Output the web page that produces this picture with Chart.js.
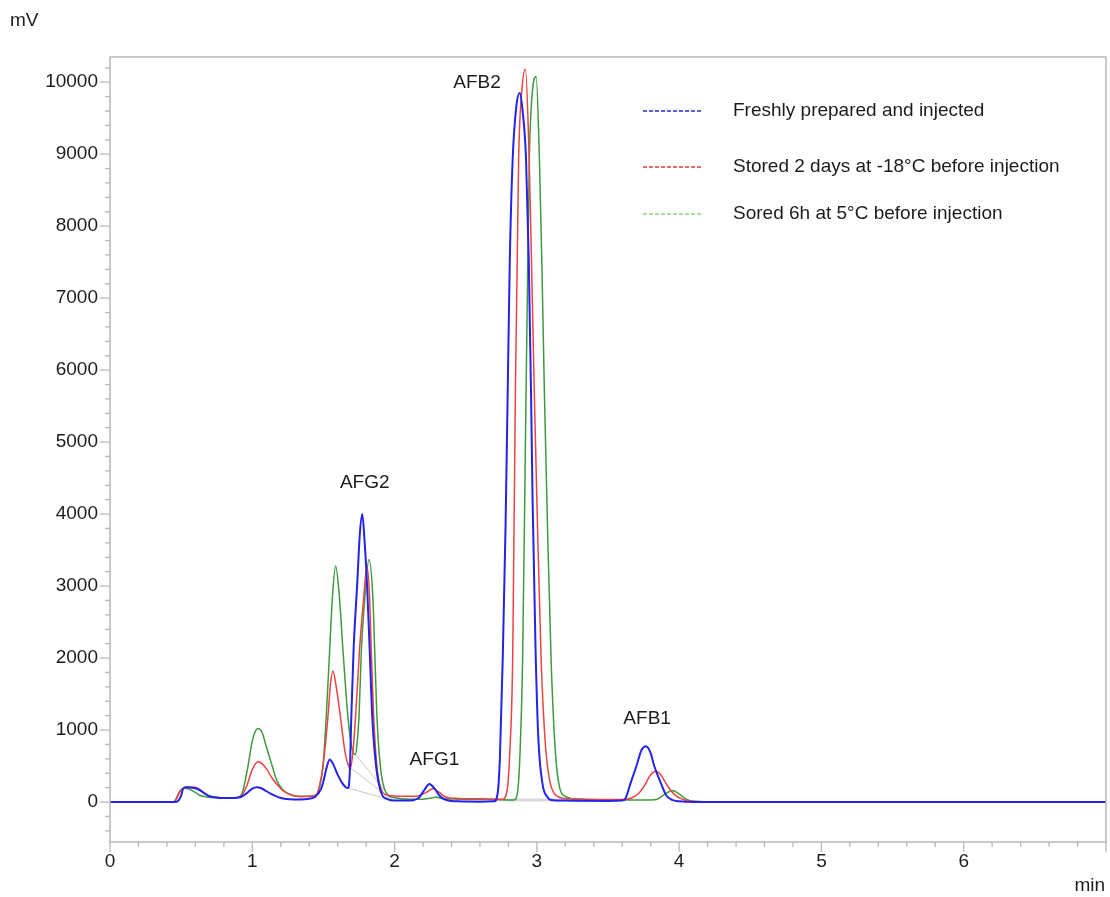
<!DOCTYPE html>
<html>
<head>
<meta charset="utf-8">
<script src="https://cdn.jsdelivr.net/npm/chart.js@4.4.1/dist/chart.umd.min.js"></script>
<style>
  html, body { margin: 0; padding: 0; background: #fff; }
  canvas { display: block; }
</style>
</head>
<body>
<canvas id="myChart" width="1110" height="897"></canvas>
<script>
// chromatogram traces, [time (min), signal (mV)]
const freshTrace = [[0,0],[0.44,0],[0.47,5],[0.50,90],[0.515,190],[0.54,205],[0.58,200],[0.61,185],[0.65,140],[0.70,80],[0.76,60],[0.84,55],[0.92,70],[0.96,120],[1.00,185],[1.03,205],[1.06,195],[1.10,150],[1.15,95],[1.20,55],[1.26,38],[1.34,35],[1.40,45],[1.44,70],[1.48,170],[1.50,290],[1.52,460],[1.544,590],[1.57,520],[1.60,380],[1.63,270],[1.655,210],[1.673,195],[1.685,400],[1.696,1190],[1.712,2120],[1.738,3050],[1.755,3700],[1.773,4000],[1.79,3600],[1.806,3050],[1.825,2120],[1.843,1190],[1.87,500],[1.906,130],[1.95,40],[2.00,20],[2.10,20],[2.17,60],[2.21,170],[2.245,250],[2.28,190],[2.32,80],[2.37,25],[2.45,10],[2.60,5],[2.70,10],[2.725,130],[2.74,600],[2.76,1980],[2.78,3830],[2.795,5690],[2.81,7540],[2.83,8930],[2.855,9650],[2.88,9850],[2.90,9600],[2.924,8930],[2.943,7540],[2.959,5690],[2.97,4200],[2.99,2200],[3.01,900],[3.04,250],[3.07,80],[3.10,30],[3.20,20],[3.50,15],[3.60,20],[3.62,40],[3.66,270],[3.70,500],[3.735,720],[3.766,775],[3.80,680],[3.825,500],[3.87,270],[3.91,90],[3.95,30],[4.00,10],[4.10,0],[7.00,0]];

const storedColdTrace = [[0,0],[0.44,0],[0.46,20],[0.49,140],[0.52,200],[0.55,210],[0.60,205],[0.63,175],[0.66,125],[0.70,80],[0.78,60],[0.86,55],[0.92,80],[0.96,220],[1.00,450],[1.04,560],[1.07,530],[1.10,460],[1.14,330],[1.18,230],[1.22,150],[1.28,95],[1.34,80],[1.40,80],[1.45,100],[1.475,250],[1.497,500],[1.532,1190],[1.55,1650],[1.567,1820],[1.59,1600],[1.619,1190],[1.649,730],[1.67,540],[1.69,475],[1.705,650],[1.726,1190],[1.754,2120],[1.782,2815],[1.806,3280],[1.825,2815],[1.836,2120],[1.853,1190],[1.876,500],[1.918,130],[1.96,90],[2.05,80],[2.15,80],[2.22,130],[2.27,185],[2.31,140],[2.36,70],[2.45,50],[2.60,45],[2.76,40],[2.79,150],[2.81,700],[2.83,1980],[2.849,5690],[2.862,7500],[2.872,8930],[2.895,9900],[2.92,10180],[2.945,9000],[2.962,7540],[2.982,5690],[3.005,3800],[3.03,1980],[3.06,800],[3.09,300],[3.13,100],[3.20,50],[3.60,35],[3.67,60],[3.72,130],[3.754,220],[3.80,380],[3.836,428],[3.87,380],[3.92,220],[3.97,100],[4.02,40],[4.07,15],[4.20,5],[6.20,0]];

const storedFridgeTrace = [[0,0],[0.44,0],[0.46,30],[0.49,150],[0.52,190],[0.55,185],[0.59,145],[0.63,95],[0.68,70],[0.74,58],[0.84,52],[0.90,65],[0.93,130],[0.97,500],[1.00,850],[1.04,1020],[1.07,960],[1.10,760],[1.14,500],[1.17,310],[1.21,180],[1.25,120],[1.33,75],[1.42,80],[1.462,130],[1.48,280],[1.497,500],[1.52,1190],[1.544,2120],[1.565,2900],[1.586,3280],[1.61,2900],[1.637,2120],[1.672,1190],[1.70,750],[1.726,660],[1.74,900],[1.75,1190],[1.767,2120],[1.79,2815],[1.82,3370],[1.848,2815],[1.86,2120],[1.876,1190],[1.90,500],[1.94,130],[2.00,60],[2.10,40],[2.20,40],[2.26,55],[2.29,70],[2.33,50],[2.45,40],[2.70,35],[2.84,30],[2.865,150],[2.88,600],[2.90,1980],[2.924,5690],[2.935,7300],[2.947,8930],[2.97,9900],[2.995,10080],[3.018,8930],[3.035,7500],[3.053,5690],[3.075,3800],[3.10,1980],[3.13,700],[3.16,200],[3.20,80],[3.30,40],[3.80,30],[3.84,35],[3.90,110],[3.953,160],[4.00,110],[4.05,40],[4.10,10],[4.30,0],[6.46,0]];

// integration baselines (thin grey)
const baselineSegments = [
    [[1.673,195],[2.00,15]],
    [[1.69,475],[1.97,50]],
    [[1.726,660],[1.98,40]],
    [[2.72,28],[3.35,28]]
];

const seriesNames = ['Freshly prepared and injected', 'Stored 2 days at -18°C before injection', 'Sored 6h at 5°C before injection'];
const lineColors = ['#2323ea', '#ec4242', '#3e9a3e'];
const legendDashColors = ['#2a2ad0', '#dc3c3c', '#8ed27e'];

const peakNames = ['AFB2', 'AFG2', 'AFG1', 'AFB1'];
const peakTimes = [2.58, 1.79, 2.28, 3.775];
const peakLevels = [9990, 4430, 590, 1150];

const xTickValues = [0, 1, 2, 3, 4, 5, 6];
const yTickValues = [0, 1000, 2000, 3000, 4000, 5000, 6000, 7000, 8000, 9000, 10000];

const toPoints = trace => trace.map(p => ({ x: p[0], y: p[1] }));

Chart.defaults.font.family = '"Liberation Sans", Arial, Helvetica, sans-serif';
Chart.defaults.font.size = 19;
Chart.defaults.color = '#1c1c1c';

const axisGrey = '#b8b8b8';

// box, ticks, axis units, peak names and legend
const decorations = {
    id: 'decorations',
    afterDraw(chart) {
        const c = chart.ctx;
        const area = chart.chartArea;
        const xs = chart.scales.x;
        const ys = chart.scales.y;
        c.save();
        c.strokeStyle = axisGrey;
        c.lineWidth = 1.5;
        c.strokeRect(area.left, area.top, area.right - area.left, area.bottom - area.top);

        c.lineWidth = 1.3;
        c.beginPath();
        for (let i = 0; i <= 35; i++) {
            const v = i * 0.2;
            const px = xs.getPixelForValue(v);
            const len = (i % 5 === 0) ? 10 : 5;
            c.moveTo(px, area.bottom);
            c.lineTo(px, area.bottom + len);
        }
        for (let v = -400; v <= 10200; v += 200) {
            const py = ys.getPixelForValue(v);
            const len = (v % 1000 === 0) ? 10 : 5;
            c.moveTo(area.left, py);
            c.lineTo(area.left - len, py);
        }
        c.stroke();

        c.fillStyle = '#1c1c1c';
        c.font = '19px "Liberation Sans", Arial, sans-serif';
        c.textBaseline = 'middle';
        c.textAlign = 'left';
        c.fillText('mV', 10, 21);
        c.textAlign = 'right';
        c.fillText('min', 1105, 886);

        c.textAlign = 'center';
        peakNames.forEach((name, i) => {
            c.fillText(name, xs.getPixelForValue(peakTimes[i]), ys.getPixelForValue(peakLevels[i]));
        });

        // legend
        const rows = [111, 167, 214];
        c.textAlign = 'left';
        c.lineWidth = 1.5;
        seriesNames.forEach((name, i) => {
            c.strokeStyle = legendDashColors[i];
            c.setLineDash([4, 2]);
            c.beginPath();
            c.moveTo(643, rows[i]);
            c.lineTo(703, rows[i]);
            c.stroke();
            c.setLineDash([]);
            c.fillText(name, 733, rows[i]);
        });
        c.restore();
    }
};

const traceDatasets = [freshTrace, storedColdTrace, storedFridgeTrace].map((trace, i) => ({
    label: seriesNames[i],
    data: toPoints(trace),
    borderColor: lineColors[i],
    borderWidth: i === 0 ? 2 : 1.5,
    pointRadius: 0,
    cubicInterpolationMode: 'monotone',
    fill: false
}));

const baselineDatasets = baselineSegments.map((seg, i) => ({
    label: 'baseline ' + i,
    data: toPoints(seg),
    borderColor: i === 3 ? '#dadada' : '#c8c8c8',
    borderWidth: i === 3 ? 3 : 1,
    pointRadius: 0,
    fill: false
}));

new Chart(document.getElementById('myChart'), {
    type: 'line',
    data: { datasets: traceDatasets.concat(baselineDatasets) },
    options: {
        responsive: false,
        animation: false,
        layout: { padding: { top: 57, right: 4, left: 0, bottom: 0 } },
        scales: {
            x: {
                type: 'linear',
                min: 0,
                max: 7,
                grid: { display: false },
                border: { display: false },
                afterBuildTicks: scale => { scale.ticks = xTickValues.map(v => ({ value: v })); },
                afterFit: scale => { scale.height = 55; },
                ticks: { padding: 0, maxRotation: 0, callback: v => String(v) }
            },
            y: {
                type: 'linear',
                min: -555,
                max: 10350,
                grid: { display: false },
                border: { display: false },
                afterBuildTicks: scale => { scale.ticks = yTickValues.map(v => ({ value: v })); },
                afterFit: scale => { scale.width = 110; },
                ticks: { padding: 4, callback: v => String(v) }
            }
        },
        plugins: {
            legend: { display: false },
            tooltip: { enabled: false }
        }
    },
    plugins: [decorations]
});
</script>
</body>
</html>
